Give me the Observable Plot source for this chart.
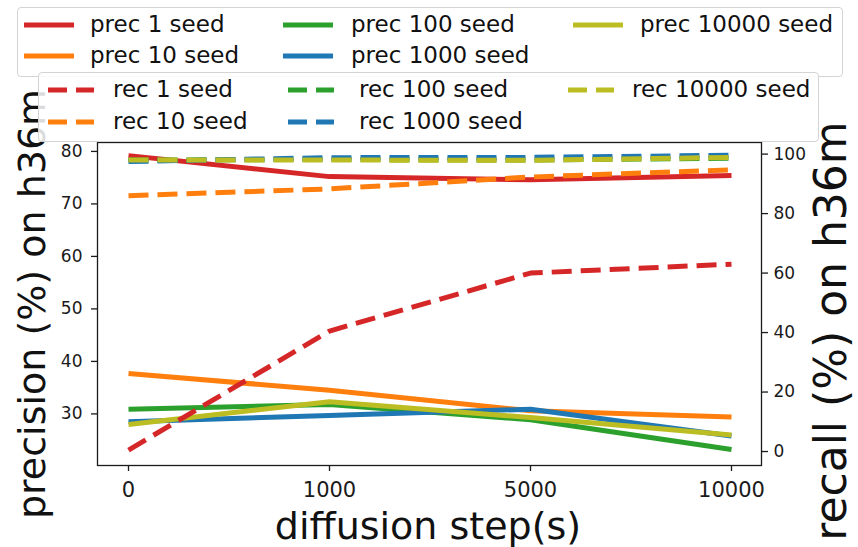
<!DOCTYPE html>
<html>
<head>
<meta charset="utf-8">
<script src="https://cdn.jsdelivr.net/npm/d3@7"></script>
<script src="https://cdn.jsdelivr.net/npm/@observablehq/plot@0.6"></script>
<style>
  body { margin: 0; background: #fff; }
  #wrap { position: relative; width: 858px; height: 547px; font-family: "DejaVu Sans", sans-serif; }
  .lgbox { position: absolute; background: rgba(255,255,255,0.85); border: 1px solid #d4d4d4; border-radius: 4px; box-sizing: border-box; }
  .lgtext { position: absolute; font-size: 23px; line-height: 28px; color: #111; white-space: nowrap; }
  .lghandle { position: absolute; }
</style>
</head>
<body>
<div id="wrap"></div>
<script>
// ---- data ----
const steps = ["0", "1000", "5000", "10000"];
const seeds = ["1", "10", "100", "1000", "10000"];
const colors = ["#d62728", "#ff7f0e", "#2ca02c", "#1f77b4", "#bcbd22"];

// precision (%) per seed count, left axis
const prec1 = [79.2, 75.2, 74.6, 75.4];
const prec10 = [37.7, 34.5, 30.6, 29.4];
const prec100 = [30.9, 31.8, 28.9, 23.2];
const prec1000 = [28.5, 29.7, 30.9, 25.8];
const prec10000 = [28.0, 32.3, 29.3, 26.0];

// recall (%) per seed count, right axis
const rec1 = [0.5, 40.5, 60.0, 63.0];
const rec10 = [86.0, 88.3, 92.3, 94.7];
const rec100 = [98.0, 98.2, 98.0, 98.6];
const rec1000 = [97.5, 98.8, 98.9, 99.6];
const rec10000 = [98.0, 98.0, 97.9, 98.9];

const precTicks = [30, 40, 50, 60, 70, 80];
const recTicks = [0, 20, 40, 60, 80, 100];

const xLabel = "diffusion step(s)";
const yLeftLabel = "precision (%) on h36m";
const yRightLabel = "recall (%) on h36m";

const precSeries = [prec1, prec10, prec100, prec1000, prec10000];
const recSeries = [rec1, rec10, rec100, rec1000, rec10000];

// ---- scales ----
const precDomain = [20.17, 81.7];
const recDomain = [-4.7, 103.9];
const toP = r => precDomain[0] + (r - recDomain[0]) * (precDomain[1] - precDomain[0]) / (recDomain[1] - recDomain[0]);
const toR = p => recDomain[0] + (p - precDomain[0]) * (recDomain[1] - recDomain[0]) / (precDomain[1] - precDomain[0]);

const rows = (vals, i, kind) => vals.map((v, j) => ({
  step: steps[j],
  y: kind === "rec" ? toP(v) : v,
  value: v,
  seed: seeds[i]
}));

const W = 858, H = 547;
const mL = 97, mR = 97, mT = 142, mB = 82;
const dash = "20,9";

const marks = [];
seeds.forEach((s, i) => {
  marks.push(Plot.line(rows(precSeries[i], i, "prec"), {x: "step", y: "y", stroke: colors[i], strokeWidth: 5, strokeLinejoin: "round", strokeLinecap: "butt"}));
});
seeds.forEach((s, i) => {
  marks.push(Plot.line(rows(recSeries[i], i, "rec"), {x: "step", y: "y", stroke: colors[i], strokeWidth: 5, strokeDasharray: dash, strokeLinecap: "butt"}));
});

const chart = Plot.plot({
  width: W, height: H,
  marginLeft: mL, marginRight: mR, marginTop: mT, marginBottom: mB,
  style: {fontFamily: "DejaVu Sans, sans-serif", background: "white", color: "#1a1a1a"},
  x: {type: "point", domain: steps, padding: 0.1436},
  y: {domain: precDomain},
  marks: [
    ...marks,
    Plot.frame({stroke: "#1a1a1a", strokeWidth: 1.3}),
    Plot.axisY({ticks: precTicks, anchor: "left", tickSize: 6, tickPadding: 9, fontSize: 17, label: null, strokeWidth: 1.3}),
    Plot.axisY({ticks: recTicks.map(toP), anchor: "right", tickSize: 6, tickPadding: 6, fontSize: 17, label: null, strokeWidth: 1.3, tickFormat: d => String(Math.round(toR(d)))}),
    Plot.axisX({ticks: steps, anchor: "bottom", tickSize: 6, tickPadding: 11, fontSize: 21, label: null, strokeWidth: 1.3})
  ]
});

const wrap = document.getElementById("wrap");
wrap.appendChild(chart);

// axis titles
const svg = d3.select(chart);
svg.append("text")
  .attr("transform", `translate(${45},${304}) rotate(-90)`)
  .attr("text-anchor", "middle")
  .attr("font-size", 38)
  .attr("fill", "#111")
  .text(yLeftLabel);
svg.append("text")
  .attr("transform", `translate(${846},${331}) rotate(-90)`)
  .attr("text-anchor", "middle")
  .attr("font-size", 44)
  .attr("fill", "#111")
  .text(yRightLabel);
svg.append("text")
  .attr("x", 428).attr("y", 539)
  .attr("text-anchor", "middle")
  .attr("font-size", 38)
  .attr("fill", "#111")
  .text(xLabel);

// ---- legends ----
function legend(box, entries, cols, rowsY, handleLen, dashed) {
  const div = document.createElement("div");
  div.className = "lgbox";
  Object.assign(div.style, {left: box[0] + "px", top: box[1] + "px", width: (box[2] - box[0]) + "px", height: (box[3] - box[1]) + "px"});
  wrap.appendChild(div);
  entries.forEach((e, k) => {
    const c = Math.floor(k / 2), r = k % 2;
    const ns = "http://www.w3.org/2000/svg";
    const h = document.createElementNS(ns, "svg");
    h.setAttribute("width", handleLen);
    h.setAttribute("height", 10);
    h.setAttribute("class", "lghandle");
    h.style.left = (cols[c][0] - box[0]) + "px";
    h.style.top = (rowsY[r] - 5 - box[1]) + "px";
    const ln = document.createElementNS(ns, "line");
    ln.setAttribute("x1", 0); ln.setAttribute("x2", handleLen);
    ln.setAttribute("y1", 5); ln.setAttribute("y2", 5);
    ln.setAttribute("stroke", e.color);
    ln.setAttribute("stroke-width", 5);
    if (dashed) ln.setAttribute("stroke-dasharray", "19,9");
    h.appendChild(ln);
    div.appendChild(h);
    const t = document.createElement("div");
    t.className = "lgtext";
    t.textContent = e.label;
    t.style.left = (cols[c][1] - box[0]) + "px";
    t.style.top = (rowsY[r] - 15 - box[1]) + "px";
    div.appendChild(t);
  });
}

legend([17, 7, 843, 77],
  seeds.map((s, i) => ({label: `prec ${s} seed`, color: colors[i]})),
  [[23, 89], [282, 350], [572, 639]], [24, 55], 50, false);
legend([38, 72, 819, 142],
  seeds.map((s, i) => ({label: `rec ${s} seed`, color: colors[i]})),
  [[47, 112], [287, 358], [567, 631]], [89, 121], 46, true);
</script>
</body>
</html>
